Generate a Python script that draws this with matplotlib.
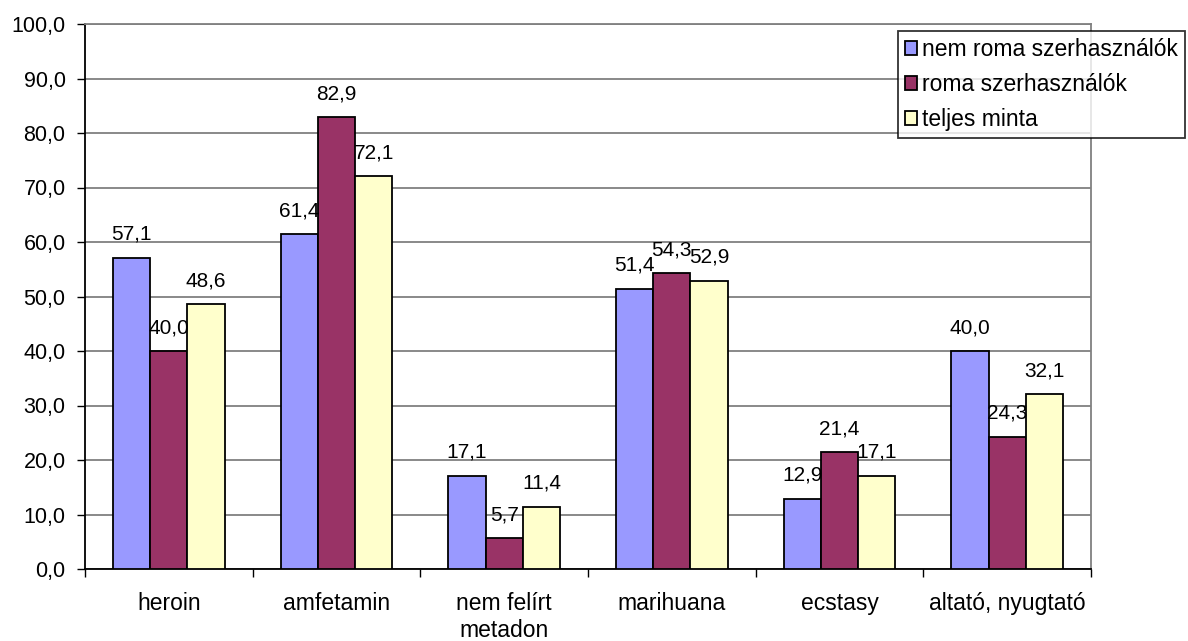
import matplotlib
matplotlib.use("Agg")
import matplotlib.pyplot as plt
import numpy as np

categories = ["heroin", "amfetamin", "nem felírt\nmetadon", "marihuana", "ecstasy", "altató, nyugtató"]
series_names = ["nem roma szerhasználók", "roma szerhasználók", "teljes minta"]
nem_roma = [57.1, 61.4, 17.1, 51.4, 12.9, 40.0]
roma = [40.0, 82.9, 5.7, 54.3, 21.4, 24.3]
teljes = [48.6, 72.1, 11.4, 52.9, 17.1, 32.1]
colors = ["#9999FF", "#993366", "#FFFFCC"]
y_ticks = [0, 10, 20, 30, 40, 50, 60, 70, 80, 90, 100]

plt.rcParams["font.family"] = ["Liberation Sans", "DejaVu Sans"]

fig = plt.figure(figsize=(11.88, 6.41), dpi=100)
ax = fig.add_axes([85 / 1188, 1 - 569 / 641, (1091 - 85) / 1188, (569 - 24) / 641])

x = np.arange(len(categories))
w = 2 / 9
handles = []
for i, (vals, col, name) in enumerate(zip([nem_roma, roma, teljes], colors, series_names)):
    pos = x + (i - 1) * w
    bars = ax.bar(pos, vals, width=w, color=col, edgecolor="black", linewidth=1.3,
                  label=name, zorder=3)
    handles.append(bars)
    for xp, v in zip(pos, vals):
        ax.annotate(f"{v:.1f}".replace(".", ","), (xp, v), xytext=(0, 10),
                    textcoords="offset points", ha="center", va="bottom",
                    fontsize=15, zorder=4)

ax.set_xlim(-0.5, len(categories) - 0.5)
ax.set_ylim(0, 100)
ax.set_yticks(y_ticks)
ax.set_yticklabels([f"{t:.1f}".replace(".", ",") for t in y_ticks], fontsize=15.5)
ax.yaxis.grid(True, color="#808080", linewidth=1.3, zorder=0)
ax.tick_params(axis="y", length=6, width=1, direction="out", pad=8)

ax.set_xticks(x)
ax.set_xticklabels(categories, fontsize=16.5)
ax.tick_params(axis="x", which="major", length=0, pad=16.5)
ax.set_xticks(np.arange(-0.5, len(categories)), minor=True)
ax.tick_params(axis="x", which="minor", length=6, width=1, direction="out")

for side in ["top", "right"]:
    ax.spines[side].set_color("#808080")
    ax.spines[side].set_linewidth(1.3)
for side in ["left", "bottom"]:
    ax.spines[side].set_color("black")
    ax.spines[side].set_linewidth(1.3)

leg = fig.legend(
    handles=handles, labels=series_names, loc="upper left",
    bbox_to_anchor=(898 / 1188, 1 - 31 / 641), fontsize=16.5,
    frameon=True, fancybox=False, shadow=False, borderpad=0.3,
    handlelength=0.55, handleheight=0.55, handletextpad=0.2,
    labelspacing=0.53, borderaxespad=0)
leg.get_frame().set_edgecolor("black")
leg.get_frame().set_linewidth(1.3)

fig.savefig("out.png", dpi=100)
